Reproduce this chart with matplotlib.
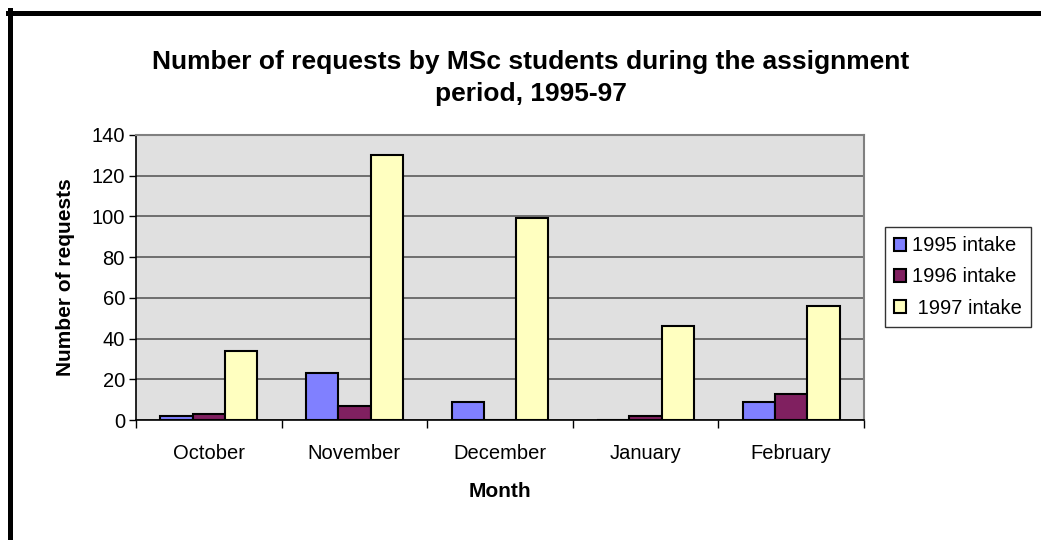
import matplotlib
matplotlib.use("Agg")
import matplotlib.pyplot as plt
from matplotlib.lines import Line2D
import numpy as np

# Daten
months = ["October", "November", "December", "January", "February"]
intake_1995 = [2, 23, 9, 0, 9]
intake_1996 = [3, 7, 0, 2, 13]
intake_1997 = [34, 130, 99, 46, 56]
series_labels = ["1995 intake", "1996 intake", " 1997 intake"]
series_colors = ["#8080ff", "#802060", "#ffffc0"]

plt.rcParams["font.family"] = ["Liberation Sans", "DejaVu Sans"]

fig = plt.figure(figsize=(10.41, 5.4), dpi=100)
ax = fig.add_axes([136 / 1041, 120 / 540, 728 / 1041, 285 / 540])
ax.set_facecolor("#e0e0e0")

x = np.arange(len(months))
w = 0.222
for i, (vals, lab, col) in enumerate(zip([intake_1995, intake_1996, intake_1997],
                                         series_labels, series_colors)):
    ax.bar(x + (i - 1) * w, vals, width=w, color=col, edgecolor="black",
           linewidth=1.5, label=lab, zorder=3)

ax.set_xlim(-0.5, len(months) - 0.5)
ax.set_ylim(0, 140)
ax.set_yticks(range(0, 141, 20))
ax.yaxis.grid(True, color="#6e6e6e", linewidth=1.4, zorder=1)
ax.set_axisbelow(True)

# Ticks an den Kategoriegrenzen, Beschriftung in der Mitte
ax.set_xticks(np.arange(-0.5, len(months)), minor=False)
ax.set_xticklabels([""] * (len(months) + 1))
ax.set_xticks(x, minor=True)
ax.set_xticklabels(months, minor=True, fontsize=14.5)
ax.tick_params(axis="x", which="minor", length=0, pad=17)
ax.tick_params(axis="x", which="major", length=6, width=1, direction="out")
ax.tick_params(axis="y", length=5, width=1, labelsize=14.5, pad=3)

for side in ["top", "right"]:
    ax.spines[side].set_color("#808080")
    ax.spines[side].set_linewidth(1.5)
for side in ["left", "bottom"]:
    ax.spines[side].set_color("black")
    ax.spines[side].set_linewidth(1.2)

ax.set_xlabel("Month", fontsize=15, fontweight="bold", labelpad=14)
ax.set_ylabel("Number of requests", fontsize=15, fontweight="bold", labelpad=12)

fig.text(531 / 1041, 1 - 78 / 540,
         "Number of requests by MSc students during the assignment\nperiod, 1995-97",
         ha="center", va="center", fontsize=19, fontweight="bold", linespacing=1.45)

leg = ax.legend(loc="center left", bbox_to_anchor=(885 / 1041, 1 - 277 / 540),
                bbox_transform=fig.transFigure, fontsize=14.5, frameon=True,
                fancybox=False, edgecolor="black", handlelength=0.6,
                handleheight=0.6, handletextpad=0.3, labelspacing=0.6,
                borderpad=0.45, borderaxespad=0)
leg.get_frame().set_linewidth(1.0)

# schwarzer Rahmen oben und links
fig.add_artist(Line2D([8 / 1041, 1.0], [1 - 12.5 / 540] * 2, color="black",
                      linewidth=3.6, transform=fig.transFigure))
fig.add_artist(Line2D([10 / 1041] * 2, [0.0, 1 - 10 / 540], color="black",
                      linewidth=3.6, transform=fig.transFigure))

fig.savefig("out.png", dpi=100)
